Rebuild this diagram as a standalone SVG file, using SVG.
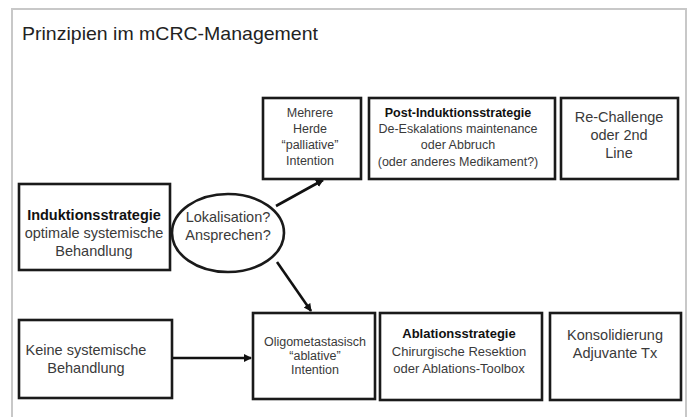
<svg xmlns="http://www.w3.org/2000/svg" width="691" height="417" viewBox="0 0 691 417">
<defs>
<style>
.frame{fill:none;stroke:#c8c8c8;stroke-width:2}
.box{fill:#fff;stroke:#1a1a1a;stroke-width:2.6}
.t{font-family:"Liberation Sans",Arial,sans-serif;fill:#3a3a3a;text-anchor:middle}
.b{font-weight:bold;fill:#111}
.c{stroke:#111;stroke-width:2.6;fill:none}
</style>
<marker id="ah" markerWidth="10" markerHeight="10" refX="7" refY="4" orient="auto" markerUnits="userSpaceOnUse">
<path d="M0,0 L8,4 L0,8 z" fill="#111"/>
</marker>
</defs>
<rect width="691" height="417" fill="#fff"/>
<path class="frame" d="M12,417 V9 H686 V417"/>
<text x="22" y="40" font-family="Liberation Sans,Arial,sans-serif" font-size="19" fill="#222" textLength="296" lengthAdjust="spacingAndGlyphs">Prinzipien im mCRC-Management</text>

<g id="connectors">
<line class="c" x1="276" y1="206" x2="323" y2="180" marker-end="url(#ah)"/>
<line class="c" x1="277" y1="262" x2="311" y2="311" marker-end="url(#ah)"/>
<line class="c" x1="172" y1="358" x2="251" y2="358" marker-end="url(#ah)"/>
</g>

<g id="induktion">
<rect class="box" x="19" y="184" width="151" height="86"/>
<text class="t b" x="94" y="220" font-size="14.5">Induktionsstrategie</text>
<text class="t" x="94" y="238" font-size="14.5">optimale systemische</text>
<text class="t" x="94" y="256" font-size="14.5">Behandlung</text>
</g>

<g id="lokalisation">
<ellipse cx="228" cy="233" rx="56" ry="39" fill="#fff" stroke="#1a1a1a" stroke-width="2.6"/>
<text class="t" x="228" y="222" font-size="14.5">Lokalisation?</text>
<text class="t" x="228" y="240" font-size="14.5">Ansprechen?</text>
</g>

<g id="mehrere">
<rect class="box" x="263" y="98" width="98" height="81"/>
<text class="t" x="310" y="117" font-size="12.5">Mehrere</text>
<text class="t" x="310" y="133" font-size="12.5">Herde</text>
<text class="t" x="310" y="149" font-size="12.5">“palliative”</text>
<text class="t" x="310" y="165" font-size="12.5">Intention</text>
</g>

<g id="postinduktion">
<rect class="box" x="369" y="98" width="186" height="81"/>
<text class="t b" x="458" y="117" font-size="12.5">Post-Induktionsstrategie</text>
<text class="t" x="458" y="133" font-size="12.5">De-Eskalations maintenance</text>
<text class="t" x="458" y="149" font-size="12.5">oder Abbruch</text>
<text class="t" x="458" y="166" font-size="12.5">(oder anderes Medikament?)</text>
</g>

<g id="rechallenge">
<rect class="box" x="561" y="98" width="117" height="81"/>
<text class="t" x="619" y="122" font-size="14.5">Re-Challenge</text>
<text class="t" x="619" y="140" font-size="14.5">oder 2nd</text>
<text class="t" x="619" y="158" font-size="14.5">Line</text>
</g>

<g id="keine">
<rect class="box" x="19" y="320" width="153" height="78"/>
<text class="t" x="86" y="355" font-size="14.5">Keine systemische</text>
<text class="t" x="86" y="373" font-size="14.5">Behandlung</text>
</g>

<g id="oligo">
<rect class="box" x="253" y="313" width="122" height="86"/>
<text class="t" x="315" y="346" font-size="12.5">Oligometastasisch</text>
<text class="t" x="315" y="360" font-size="12.5">“ablative”</text>
<text class="t" x="315" y="374" font-size="12.5">Intention</text>
</g>

<g id="ablation">
<rect class="box" x="380" y="313" width="162" height="87"/>
<text class="t b" x="459" y="338" font-size="13">Ablationsstrategie</text>
<text class="t" x="459" y="356" font-size="13">Chirurgische Resektion</text>
<text class="t" x="459" y="373" font-size="13">oder Ablations-Toolbox</text>
</g>

<g id="konsolidierung">
<rect class="box" x="550" y="313" width="131" height="87"/>
<text class="t" x="615" y="340" font-size="14.5">Konsolidierung</text>
<text class="t" x="615" y="358" font-size="14.5">Adjuvante Tx</text>
</g>
</svg>
